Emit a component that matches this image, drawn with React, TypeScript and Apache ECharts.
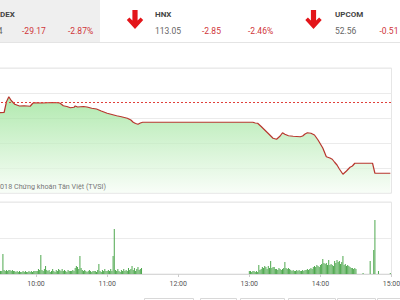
import React, { useEffect, useRef } from "react";
import * as echarts from "echarts";

// ---- Price line (VN-Index, intraday) ----
const priceTimes = [
  "09:15", "09:29", "09:33", "09:35", "09:37", "09:39", "09:42", "09:46", "09:50", "09:55",
  "09:57", "09:58", "10:05", "10:10", "10:15", "10:20", "10:23", "10:26", "10:29", "10:32",
  "10:33", "10:35", "10:40", "10:43", "10:47", "10:51", "10:55", "11:00", "11:04", "11:08",
  "11:12", "11:17", "11:20", "11:22", "11:24", "11:26", "11:28", "11:30", "13:00", "13:03",
  "13:05", "13:07", "13:10", "13:13", "13:16", "13:20", "13:23", "13:26", "13:28", "13:30",
  "13:33", "13:37", "13:40", "13:43", "13:45", "13:47", "13:49", "13:52", "13:55", "13:58",
  "14:02", "14:05", "14:08", "14:10", "14:12", "14:14", "14:16", "14:19", "14:22", "14:25",
  "14:27", "14:29", "14:44", "14:46", "14:59",
];
const priceValues = [
  1012.1, 1012.1, 1012.2, 1016.5, 1018.5, 1017.0, 1015.5, 1014.8, 1014.9, 1014.7,
  1015.8, 1016.1, 1016.0, 1016.1, 1016.2, 1016.0, 1014.9, 1014.6, 1014.1, 1014.3,
  1014.8, 1014.4, 1014.6, 1014.4, 1013.9, 1013.6, 1012.8, 1011.9, 1011.4, 1010.9,
  1010.5, 1009.9, 1009.2, 1008.3, 1007.8, 1007.5, 1008.0, 1008.3, 1008.3, 1008.3,
  1008.0, 1007.9, 1006.6, 1005.2, 1003.8, 1001.9, 1001.5, 1002.8, 1004.1, 1003.5,
  1002.9, 1002.7, 1002.6, 1002.5, 1002.8, 1003.6, 1004.1, 1003.9, 1003.2, 1001.2,
  998.0, 994.5, 994.0, 993.5, 992.3, 991.2, 989.6, 987.5, 988.8, 990.3,
  990.8, 991.9, 991.9, 987.9, 987.9,
];
const referencePrice = 1016.3;

// ---- Volume bars (per minute) ----
const morningStart = "09:15";
const morningVol = [
  30, 6, 4, 5, 4, 3, 4, 3, 4, 3, 3, 4, 3, 3, 4,
  3, 3, 20, 4, 3, 4, 3, 4, 4, 3,
  4, 3, 3, 2, 3, 2, 3, 2, 2, 3,
  2, 3, 2, 2, 3, 2, 3, 2, 3, 3,
  3, 3, 5, 4, 19, 4, 3, 5, 8, 4,
  3, 4, 2, 3, 5, 3, 2, 4, 3, 5,
  4, 3, 5, 3, 4, 3, 2, 4, 3, 3,
  3, 4, 3, 6, 8, 7, 5, 18, 6, 4,
  3, 4, 3, 2, 3, 4, 3, 2, 3, 3,
  3, 2, 4, 10, 3, 2, 4, 3, 5, 3,
  3, 4, 3, 5, 3, 18, 45, 4, 3, 5,
  3, 2, 4, 3, 5, 3, 4, 3, 6, 4,
  5, 8, 4, 6, 3, 5, 7, 4, 5, 6,
];
const afternoonStart = "13:00";
const afternoonVol = [
  3, 3, 2, 3, 3, 2, 3, 2, 9, 4,
  5, 7, 6, 8, 7, 5, 8, 6, 13, 6,
  7, 7, 5, 5, 4, 6, 5, 4, 5, 6,
  12, 6, 5, 6, 5, 4, 3, 4, 3, 3,
  4, 3, 4, 3, 3, 4, 3, 4, 4, 5,
  4, 5, 6, 5, 7, 8, 7, 9, 8, 7,
  9, 10, 15, 11, 10, 11, 9, 14, 9, 10,
  9, 8, 13, 11, 14, 12, 13, 10, 12, 18,
  9, 10, 8, 9, 8, 7, 6, 6, 5, 6, 5,
];
const atcTimes = ["14:36", "14:42", "14:45", "14:46", "14:49", "14:59"];
const atcVol = [1, 13, 24, 54, 3, 1];

// ---- Header (visible parts of the index strip) ----
const headerIndices = [
  { name: "DEX", value: "4", change: "-29.17", pct: "-2.87%" },
  { name: "HNX", value: "113.05", change: "-2.85", pct: "-2.46%" },
  { name: "UPCOM", value: "52.56", change: "-0.51", pct: "" },
];
const copyright = "© 2018 Chứng khoán Tân Việt (TVSI)";

const toMin = (s: string) => {
  const [h, m] = s.split(":").map(Number);
  return h * 60 + m;
};
const fmtMin = (v: number) => {
  const h = Math.floor(v / 60);
  const m = Math.round(v % 60);
  return `${h}:${m < 10 ? "0" + m : m}`;
};

const RED = "#d0363a";
const FONT = "Roboto";

function arrow(cx: number) {
  return {
    type: "polygon",
    shape: {
      points: [
        [cx - 2.6, 10], [cx + 2.6, 10], [cx + 2.6, 20.5], [cx + 5.6, 17.4],
        [cx + 8.2, 20.1], [cx, 29], [cx - 8.2, 20.1], [cx - 5.6, 17.4], [cx - 2.6, 20.5],
      ],
    },
    style: { fill: "#e3151a" },
    z: 10,
  };
}

function txt(x: number, y: number, text: string, opts: any = {}) {
  return {
    type: "text",
    x,
    y,
    z: 10,
    style: {
      text,
      fill: opts.fill || "#666",
      font: `${opts.bold ? "bold " : ""}${opts.size || 8.5}px ${FONT}`,
      align: opts.align || "left",
      verticalAlign: "middle",
    },
  };
}

export default function App() {
  const ref = useRef<HTMLDivElement>(null);
  useEffect(() => {
    if (!ref.current) return;
    const chart = echarts.init(ref.current, null, { renderer: "svg" });

    const priceData = priceTimes.map((t, i) => [toMin(t), priceValues[i]]);
    const m0 = toMin(morningStart);
    const a0 = toMin(afternoonStart);
    const volData = [
      ...morningVol.map((v, i) => [m0 + i, v]),
      ...afternoonVol.map((v, i) => [a0 + i, v]),
      ...atcTimes.map((t, i) => [toMin(t), atcVol[i]]),
    ];

    const [vn, hnx, up] = headerIndices;

    const xBase = {
      type: "value",
      min: 540,
      max: 900,
      interval: 60,
      splitLine: { show: false },
    };

    chart.setOption({
      animation: false,
      backgroundColor: "#fff",
      grid: [
        {
          left: -35, right: 8.5, top: 68, bottom: 107, show: true,
          borderColor: "#e6e6e6", borderWidth: 1, outerBoundsMode: "none", containLabel: false,
        },
        {
          left: -35, right: 8.5, top: 202, bottom: 26, show: true,
          borderColor: "#e6e6e6", borderWidth: 1, outerBoundsMode: "none", containLabel: false,
        },
      ],
      xAxis: [
        { ...xBase, gridIndex: 0, axisLabel: { show: false }, axisTick: { show: false }, axisLine: { show: false } },
        {
          ...xBase,
          gridIndex: 1,
          axisLine: { show: true, lineStyle: { color: "#d8d8d8" } },
          axisTick: { show: true, length: 3, lineStyle: { color: "#cccccc" } },
          axisLabel: {
            show: true,
            formatter: (v: number) => (v < 600 ? "" : fmtMin(v)),
            color: "#555",
            fontSize: 7,
            fontFamily: FONT,
            margin: 6,
            hideOverlap: false,
          },
        },
      ],
      yAxis: [
        {
          type: "value", gridIndex: 0, min: 980, max: 1030, interval: 10,
          axisLabel: { show: false }, axisLine: { show: false }, axisTick: { show: false },
          splitLine: { lineStyle: { color: "#ebebeb" } },
        },
        {
          type: "value", gridIndex: 1, min: 0, max: 72, interval: 36,
          axisLabel: { show: false }, axisLine: { show: false }, axisTick: { show: false },
          splitLine: { lineStyle: { color: "#ebebeb" } },
        },
      ],
      series: [
        {
          type: "line",
          xAxisIndex: 0,
          yAxisIndex: 0,
          data: priceData,
          symbol: "none",
          lineStyle: { color: "#b8362e", width: 1.2 },
          areaStyle: {
            color: new echarts.graphic.LinearGradient(0, 0, 0, 1, [
              { offset: 0, color: "#8fe08c" },
              { offset: 1, color: "#f6fdf5" },
            ]),
          },
          markLine: {
            silent: true,
            symbol: "none",
            label: { show: false },
            lineStyle: { color: "#e0403a", type: [2, 2], width: 1 },
            data: [{ yAxis: referencePrice }],
          },
          z: 3,
        },
        {
          type: "bar",
          xAxisIndex: 1,
          yAxisIndex: 1,
          data: volData,
          barWidth: 1,
          itemStyle: { color: "#4ea84e" },
        },
      ],
      graphic: [
        { type: "rect", shape: { x: 0, y: 0, width: 100, height: 42 }, style: { fill: "#efefef" }, z: 1 },
        { type: "line", shape: { x1: 0, y1: 42.5, x2: 400, y2: 42.5 }, style: { stroke: "#e4e4e4", lineWidth: 1 }, z: 2 },
        txt(0, 14.5, vn.name, { bold: true, fill: "#444", size: 8 }),
        txt(2.5, 31, vn.value, { align: "right" }),
        txt(22, 31, vn.change, { fill: RED }),
        txt(68, 31, vn.pct, { fill: RED }),
        arrow(135),
        txt(155, 14.5, hnx.name, { bold: true, fill: "#444", size: 8 }),
        txt(155, 31, hnx.value),
        txt(202, 31, hnx.change, { fill: RED }),
        txt(248, 31, hnx.pct, { fill: RED }),
        arrow(313.5),
        txt(335, 14.5, up.name, { bold: true, fill: "#444", size: 8 }),
        txt(335, 31, up.value),
        txt(379.5, 31, up.change, { fill: RED }),
        txt(106, 186.5, copyright, { size: 7.2, fill: "#777", align: "right" }),
        ...[
          [144, 49], [200, 36], [240, 44], [288, 47], [337, 38], [377, 30],
        ].map(([x, w]) => ({
          type: "rect",
          shape: { x: x + 0.5, y: 298.5, width: w, height: 10 },
          style: { fill: "#fff", stroke: "#d8d8d8", lineWidth: 1 },
          z: 5,
        })),
      ],
    });
    return () => chart.dispose();
  }, []);
  return (
    <div
      ref={ref}
      style={{ position: "absolute", left: 0, top: 0, width: 400, height: 300 }}
    />
  );
}
